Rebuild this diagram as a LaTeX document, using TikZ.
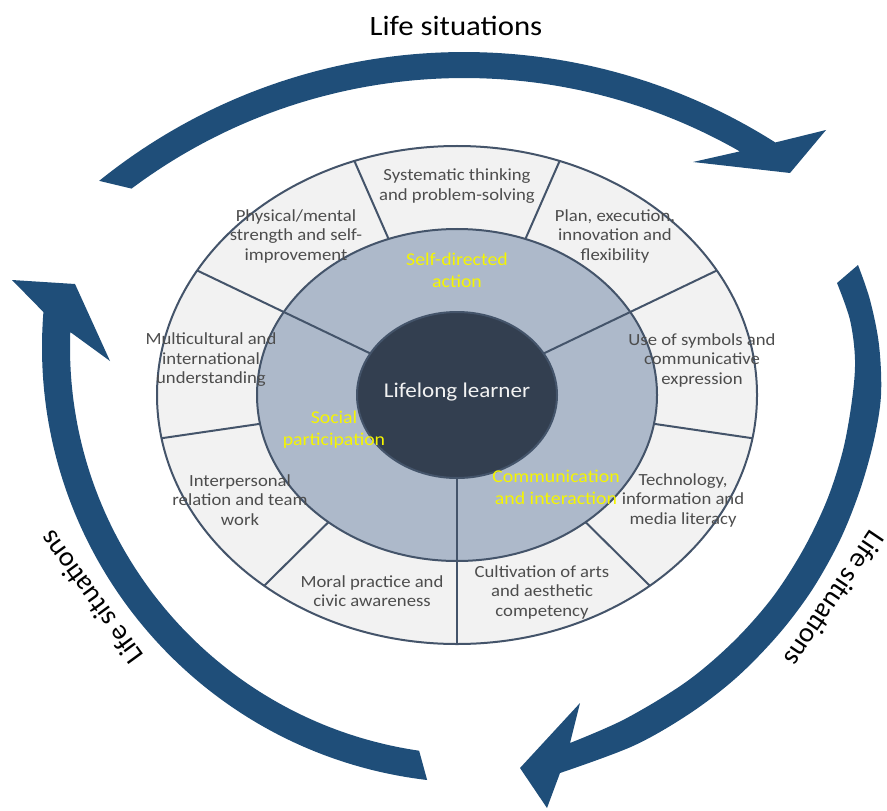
\documentclass[tikz,border=0pt]{standalone}
\usepackage{fontspec}
\setmainfont{Carlito}[FakeStretch=1.1]
\newfontfamily\arcfont{Carlito}
\usetikzlibrary{calc}
\definecolor{arrowblue}{HTML}{1F4E79}
\definecolor{ringgray}{HTML}{F2F2F2}
\definecolor{midblue}{HTML}{ADB9CA}
\definecolor{coredark}{HTML}{333F50}
\definecolor{edgeslate}{HTML}{44546A}
\definecolor{segtext}{HTML}{4D4D4D}
\definecolor{areatext}{HTML}{F5F500}
\definecolor{coretext}{HTML}{F2F2F2}

\begin{document}
\begin{tikzpicture}[x=0.5pt, y=0.5pt,
  segment/.style={align=center, text=segtext, inner sep=0pt,
                  font=\fontsize{8.5}{9.75}\selectfont},
  area/.style={align=center, text=areatext, inner sep=0pt,
               font=\fontsize{9}{11}\selectfont},
  cyclelabel/.style={inner sep=0pt, text=black},
  ring/.style={draw=edgeslate, line width=1pt},
  divider/.style={draw=edgeslate, line width=1pt},
  bigarrow/.style={fill=arrowblue}]

\useasboundingbox (0,0) rectangle (887,810);

% ---- three curved arrows around the wheel ----
\coordinate (topc) at (464,177);
\coordinate (leftc) at (478,463);

% top arrow, left to right
\fill[bigarrow] ($(topc)+(128.9:581)$) arc[start angle=128.9, end angle=57.6, radius=581]
  -- (826,680) -- (790,637) -- (693,648)
  -- ($(topc)+(60.2:555)$) arc[start angle=60.2, end angle=126.8, radius=555] -- cycle;

% right arrow, top to bottom
\fill[bigarrow] plot[smooth, tension=0.55] coordinates {
    (858,545) (870,510) (879,465) (881,415) (874,370) (860,320) (840,270)
    (812,220) (778,175) (736,132) (689,96) (633,64) (560,37)}
  -- (547,2) -- (520,42) -- (580,107)
  -- plot[smooth, tension=0.55] coordinates {
    (570,67) (625,91) (686,128) (733,168) (772,212) (803,260) (827,310)
    (843,360) (852,410) (855,450) (850,490) (837,527)}
  -- cycle;

% left arrow, bottom to top
\fill[bigarrow] ($(leftc)+(263.3:436)$) arc[start angle=263.3, end angle=175.4, radius=436]
  -- (12,530) -- (75,526) -- (110,449)
  -- ($(leftc)+(177.9:408)$) arc[start angle=177.9, end angle=261.7, radius=408] -- cycle;

% ---- the wheel ----
\begin{scope}[shift={(457,415)}, yscale=0.83]
  \draw[ring, fill=ringgray] (0,0) circle[radius=300];
  \foreach \a in {70,110,190,230,310,350}
    \draw[divider] (\a:200) -- (\a:300);
  \draw[ring, fill=midblue] (0,0) circle[radius=200];
  \foreach \a in {30,150,270}
    \draw[divider] (\a:100) -- (\a:300);
  \draw[ring, fill=coredark] (0,0) circle[radius=100];
\end{scope}

% ---- competency labels in the outer ring ----
\node[segment] (sys)   at (457,624) {Systematic thinking\\and problem-solving};
\node[segment] (phys)  at (296,574) {Physical/mental\\strength and self-\\improvement};
\node[segment] (plan)  at (615,574) {Plan, execution,\\innovation and\\flexibility};
\node[segment] (multi) at (211,450) {Multicultural and\\international\\understanding};
\node[segment] (symb)  at (702,450) {Use of symbols and\\communicative\\expression};
\node[segment] (inter) at (240,310) {Interpersonal\\relation and team\\work};
\node[segment] (tech)  at (683,310) {Technology,\\information and\\media literacy};
\node[segment] (moral) at (372,219) {Moral practice and\\civic awareness};
\node[segment] (arts)  at (542,218) {Cultivation of arts\\and aesthetic\\competency};

% ---- the three domains ----
\node[area] (selfdir) at (457,540) {Self-directed\\action};
\node[area] (social)  at (334,380) {Social\\participation};
\node[area] (comm)    at (556,323) {Communication\\and interaction};

% ---- centre ----
\node[text=coretext, inner sep=0pt, font=\fontsize{10.5}{12}\selectfont] (core) at (457,418) {Lifelong learner};

% ---- labels on the arrows ----
\node[cyclelabel, font=\fontsize{14}{16}\selectfont] (lstop) at (456,784) {Life situations};
\node[cyclelabel, font=\arcfont\fontsize{14}{16}\selectfont, rotate=126] (lsleft) at (91,212) {Life situations};
\node[cyclelabel, font=\arcfont\fontsize{14}{16}\selectfont, rotate=-124] (lsright) at (835,211) {Life situations};

\end{tikzpicture}
\end{document}
